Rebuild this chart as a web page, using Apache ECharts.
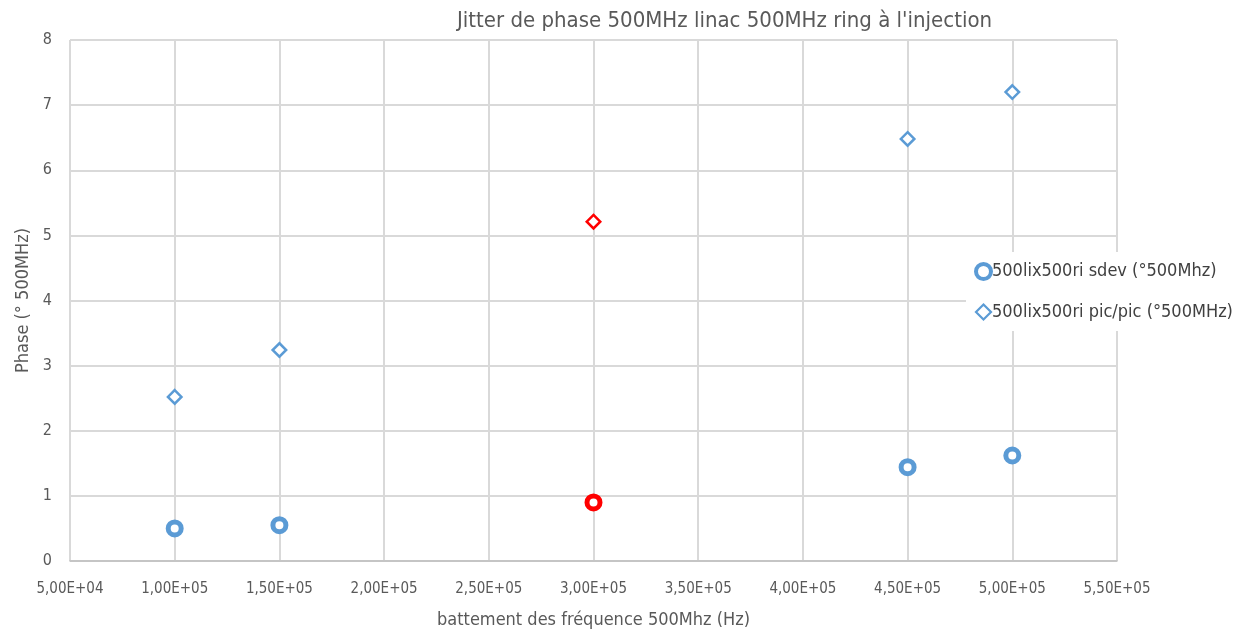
<!DOCTYPE html>
<html>
<head>
<meta charset="utf-8">
<script src="https://cdn.jsdelivr.net/npm/echarts@6/dist/echarts.min.js"></script>
<style>
  html, body { margin: 0; padding: 0; background: #ffffff; }
  #chart { width: 1249px; height: 634px; }
</style>
</head>
<body>
<div id="chart"></div>
<script>
// Beat frequency (Hz) for each measurement
const frequencies = [100000, 150000, 300000, 450000, 500000];
// Phase jitter, standard deviation (° at 500 MHz)
const sdevValues = [0.50, 0.55, 0.90, 1.44, 1.62];
// Phase jitter, peak to peak (° at 500 MHz)
const picValues = [2.52, 3.24, 5.21, 6.48, 7.20];
// Index of the highlighted measurement
const highlightIndex = 2;

const seriesNames = ['500lix500ri sdev (°500Mhz)', '500lix500ri pic/pic (°500MHz)'];
const titleText = "Jitter de phase 500MHz linac 500MHz ring à l'injection";
const xAxisTitle = 'battement des fréquence 500Mhz (Hz)';
const yAxisTitle = 'Phase (° 500MHz)';

const BLUE = '#5B9BD5';
const RED = '#FF0000';
const TEXT = '#595959';
const FONT = '"Liberation Sans Narrow", "DejaVu Sans Condensed", "Open Sans", sans-serif';

function formatSci(v) {
  // 50000 -> "5,00E+04"
  const [mant, exp] = v.toExponential(2).split('e');
  const e = parseInt(exp, 10);
  const sign = e < 0 ? '-' : '+';
  const digits = String(Math.abs(e)).padStart(2, '0');
  return mant.replace('.', ',') + 'E' + sign + digits;
}

function buildPoints(values) {
  return frequencies.map((f, i) => {
    const item = { value: [f, values[i]] };
    if (i === highlightIndex) item.itemStyle = { borderColor: RED };
    return item;
  });
}

const ringStyle = { color: '#ffffff', borderColor: BLUE, borderWidth: 5, opacity: 1 };
const diamondStyle = { color: '#ffffff', borderColor: BLUE, borderWidth: 2.5, opacity: 1 };

const chart = echarts.init(document.getElementById('chart'), null, { renderer: 'canvas' });

chart.setOption({
  backgroundColor: '#ffffff',
  animation: false,
  textStyle: { fontFamily: FONT, color: TEXT },
  title: {
    text: titleText,
    left: 452,
    top: 5,
    textStyle: { fontFamily: FONT, fontSize: 22, fontWeight: 'normal', color: TEXT }
  },
  grid: { left: 70, right: 132, top: 40, bottom: 71, containLabel: false },
  legend: {
    orient: 'vertical',
    left: 966,
    top: 252,
    backgroundColor: '#ffffff',
    padding: [10, 10, 10, 8],
    itemGap: 22,
    itemWidth: 15,
    itemHeight: 15,
    textStyle: { fontFamily: FONT, fontSize: 18, color: '#404040', padding: [0, 0, 0, -4] },
    data: [
      { name: seriesNames[0], icon: 'circle', itemStyle: { color: '#ffffff', borderColor: BLUE, borderWidth: 4 } },
      { name: seriesNames[1], icon: 'diamond', itemStyle: { color: '#ffffff', borderColor: BLUE, borderWidth: 2.2 } }
    ]
  },
  xAxis: {
    type: 'value',
    min: 50000,
    max: 550000,
    interval: 50000,
    name: xAxisTitle,
    nameLocation: 'middle',
    nameGap: 50,
    nameTextStyle: { fontFamily: FONT, fontSize: 18, color: TEXT },
    axisLine: { show: true, lineStyle: { color: '#bfbfbf', width: 1.5 } },
    axisTick: { show: false },
    axisLabel: { formatter: formatSci, fontFamily: FONT, fontSize: 15, color: TEXT, margin: 21 },
    splitLine: { show: true, lineStyle: { color: '#d9d9d9', width: 2 } }
  },
  yAxis: {
    type: 'value',
    min: 0,
    max: 8,
    interval: 1,
    name: yAxisTitle,
    nameLocation: 'middle',
    nameGap: 34,
    nameRotate: 90,
    nameTextStyle: { fontFamily: FONT, fontSize: 18, color: TEXT },
    axisLine: { show: false },
    axisTick: { show: false },
    axisLabel: { fontFamily: FONT, fontSize: 16, color: TEXT, margin: 18 },
    splitLine: { show: true, lineStyle: { color: '#d9d9d9', width: 2 } }
  },
  series: [
    {
      name: seriesNames[0],
      type: 'scatter',
      symbol: 'circle',
      symbolSize: 13,
      itemStyle: ringStyle,
      data: buildPoints(sdevValues),
      z: 3
    },
    {
      name: seriesNames[1],
      type: 'scatter',
      symbol: 'diamond',
      symbolSize: 13.5,
      itemStyle: diamondStyle,
      data: buildPoints(picValues),
      z: 3
    }
  ]
});
</script>
</body>
</html>
